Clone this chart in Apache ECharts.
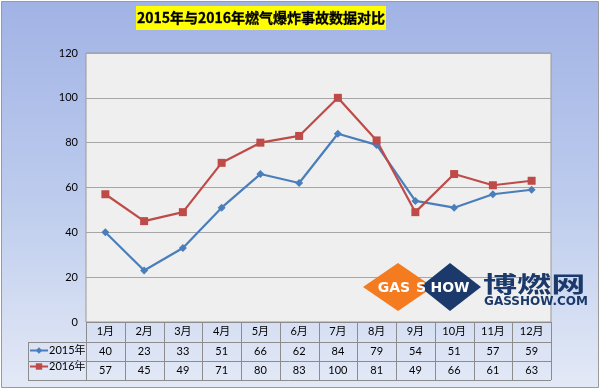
<!DOCTYPE html>
<html><head><meta charset="utf-8">
<script src="https://cdn.jsdelivr.net/npm/echarts@6/dist/echarts.min.js"></script>
<style>html,body{margin:0;padding:0;background:#fff}#c{width:600px;height:389px}</style>
</head><body><div id="c"></div>
<script>
const titleText = '2015年与2016年燃气爆炸事故数据对比';
const months = ['1月','2月','3月','4月','5月','6月','7月','8月','9月','10月','11月','12月'];
const seriesNames = ['2015年','2016年'];
const s2015 = [40,23,33,51,66,62,84,79,54,51,57,59];
const s2016 = [57,45,49,71,80,83,100,81,49,66,61,63];
const yMin = 0, yMax = 120, yStep = 20;

const FONT = 'Lato, "Noto Sans CJK SC", sans-serif';
const G = {left: 86, right: 49, top: 53, bottom: 67};
const W = 600, H = 389;
const plotR = W - G.right, plotB = H - G.bottom;
const rowY = [plotB, plotB + 20, plotB + 39, plotB + 58];
const tableL = 28;
const colW = (plotR - G.left) / months.length;
const lineColor = '#8c8c8c';

const graphics = [];
// background frame
graphics.push({type:'rect', z:-10, silent:true, shape:{x:1.5,y:1.5,width:W-3,height:H-3},
  style:{fill:new echarts.graphic.LinearGradient(0,0,0,1,[{offset:0,color:'#a1b3e5'},{offset:0.5,color:'#bccbed'},{offset:1,color:'#e3e9f6'}]), stroke:'#9a9a9a', lineWidth:1}});
// title
graphics.push({type:'rect', silent:true, shape:{x:136,y:6,width:250,height:24}, style:{fill:'#ffff00'}});
graphics.push({type:'text', silent:true, x:261, y:18, style:{text:titleText, fill:'#000', font:'bold 14px "Noto Sans CJK SC", sans-serif', align:'center', verticalAlign:'middle', stroke:'#000', lineWidth:0.3}});
// table lines
function hline(x1,x2,y){graphics.push({type:'line',silent:true,z:5,shape:{x1:x1,y1:y+0.5,x2:x2,y2:y+0.5},style:{stroke:lineColor,lineWidth:1}});}
function vline(x,y1,y2){graphics.push({type:'line',silent:true,z:5,shape:{x1:Math.round(x)+0.5,y1:y1,x2:Math.round(x)+0.5,y2:y2},style:{stroke:lineColor,lineWidth:1}});}
hline(G.left, plotR, rowY[0]);
hline(tableL, plotR, rowY[1]);
hline(tableL, plotR, rowY[2]);
hline(tableL, plotR, rowY[3]);
vline(tableL, rowY[1], rowY[3]);
for (let i = 0; i <= months.length; i++) vline(G.left + i*colW, rowY[0], rowY[3]);
// watermark logo
graphics.push({type:'polygon', silent:true, z:3, shape:{points:[[363,287],[398,263],[433,287],[398,311]]}, style:{fill:'#f47b20'}});
graphics.push({type:'polygon', silent:true, z:3, shape:{points:[[420,287],[450,263],[481,287],[450,311]]}, style:{fill:'#1b3a6b'}});
graphics.push({type:'text', silent:true, z:4, x:394, y:288, style:{text:'GAS', fill:'#fff', font:'bold 14px "DejaVu Sans", sans-serif', align:'center', verticalAlign:'middle'}});
graphics.push({type:'text', silent:true, z:4, x:421, y:288, style:{text:'S', fill:'#fff', font:'bold 14px "DejaVu Sans", sans-serif', align:'center', verticalAlign:'middle'}});
graphics.push({type:'text', silent:true, z:4, x:450, y:288, style:{text:'HOW', fill:'#fff', font:'bold 14px "DejaVu Sans", sans-serif', align:'center', verticalAlign:'middle'}});
graphics.push({type:'text', silent:true, z:4, x:483, y:284, scaleX:1.55, originX:0, originY:0, style:{text:'博燃网', fill:'#1b3a6b', font:'bold 22px "Noto Sans CJK SC", sans-serif', align:'left', verticalAlign:'middle'}});
graphics.push({type:'text', silent:true, z:4, x:536, y:302, style:{text:'GASSHOW.COM', fill:'#1b3a6b', font:'bold 12px "DejaVu Sans", sans-serif', align:'center', verticalAlign:'middle'}});

const chart = echarts.init(document.getElementById('c'), null, {renderer:'canvas'});
const catAxisBase = {type:'category', position:'bottom', boundaryGap:true,
  axisLine:{show:false}, axisTick:{show:false}, splitLine:{show:false}};
chart.setOption({
  animation:false,
  textStyle:{fontFamily:FONT},
  grid:{left:G.left, right:G.right, top:G.top, bottom:G.bottom, show:true, backgroundColor:'#efefef', borderColor:'#999', borderWidth:1, z:0},
  legend:{orient:'vertical', left:29, top:rowY[1]+3, padding:0, itemGap:5, itemWidth:18, itemHeight:8,
    textStyle:{fontSize:11, color:'#000', fontFamily:FONT, padding:[0,0,0,-4]}, data:seriesNames},
  xAxis:[
    Object.assign({}, catAxisBase, {data:months, axisLabel:{fontSize:11, color:'#000', margin:4, fontFamily:FONT}}),
    Object.assign({}, catAxisBase, {data:s2015.map(String), offset:20, axisLabel:{fontSize:11, color:'#000', margin:4, fontFamily:FONT}}),
    Object.assign({}, catAxisBase, {data:s2016.map(String), offset:39, axisLabel:{fontSize:11, color:'#000', margin:4, fontFamily:FONT}})
  ],
  yAxis:{type:'value', min:yMin, max:yMax, interval:yStep,
    axisLine:{show:false}, axisTick:{show:false},
    axisLabel:{fontSize:11, color:'#000', margin:8, fontFamily:FONT},
    splitLine:{lineStyle:{color:'#a6a6a6', width:1}}},
  series:[
    {name:seriesNames[0], type:'line', data:s2015, symbol:'diamond', symbolSize:8, z:6,
     lineStyle:{color:'#4a7ebb', width:2.2}, itemStyle:{color:'#4a7ebb'}},
    {name:seriesNames[1], type:'line', data:s2016, symbol:'rect', symbolSize:8, z:6,
     lineStyle:{color:'#be4b48', width:2.2}, itemStyle:{color:'#be4b48'}}
  ],
  graphic:{elements:graphics}
});
</script></body></html>
